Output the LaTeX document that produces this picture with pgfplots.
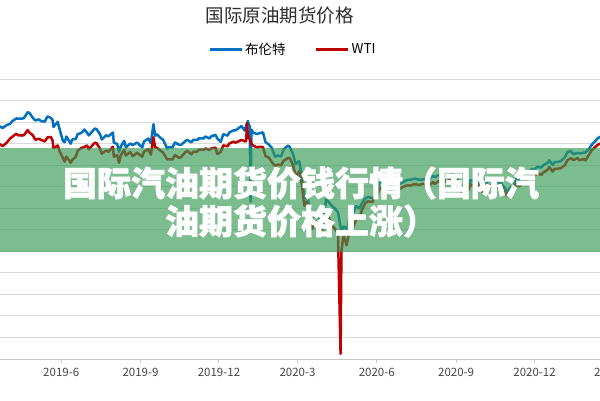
\documentclass[border=0pt]{standalone}
\usepackage{fontspec}
\usepackage{pgfplots}
\usepackage{pgfplotstable}
\pgfplotsset{compat=1.18}
\setmainfont{Noto Sans CJK SC}
\newfontfamily\bannerfont[BoldFeatures={FakeBold=1.6}]{Noto Sans CJK SC}
\definecolor{brent}{RGB}{0,112,192}
\definecolor{wti}{RGB}{192,0,0}
\definecolor{gridc}{RGB}{217,217,217}
\definecolor{axisc}{RGB}{200,200,200}
\definecolor{banner}{RGB}{54,155,86}
\definecolor{ticktext}{RGB}{70,70,70}
\definecolor{titletext}{RGB}{45,45,45}

\pgfplotstableread{
d v
73 67.16
78 68.50
83 67.21
87 68.39
92 69.31
94 70.34
99 71.73
101 71.55
106 71.62
108 71.97
112 74.51
114 74.35
118 72.04
121 70.75
125 71.24
128 70.39
132 70.23
135 72.62
139 71.97
141 70.99
142 67.76
147 70.11
149 66.87
153 61.28
155 60.63
157 63.29
162 59.97
164 62.01
168 62.14
170 64.45
174 64.86
178 66.55
181 65.06
183 63.82
190 67.01
192 66.72
196 64.35
198 61.93
203 63.83
206 63.46
211 65.17
212 60.50
216 59.81
218 56.23
220 58.53
224 61.30
226 58.23
231 60.03
234 59.34
239 60.49
245 58.26
247 60.95
252 62.38
255 60.22
258 69.02
260 63.60
262 64.28
267 62.39
269 61.91
274 57.69
276 58.37
280 58.24
283 60.51
288 59.42
290 59.42
295 61.17
297 61.72
302 60.61
304 61.69
309 61.74
311 62.51
316 62.37
318 63.30
323 62.40
325 63.39
330 64.06
332 62.43
336 60.82
339 64.39
344 63.72
346 65.22
351 66.17
353 66.14
357 67.20
360 68.16
364 66.00
365.5 68.40
367.5 70.50
368.5 68.80
369.6 68.20
370.6 33.00
371.6 66.50
374 64.98
378 64.49
381 64.85
385 65.20
388 60.69
392 59.51
395 58.16
399 53.96
402 54.47
406 54.01
409 57.32
414 59.12
416 58.50
420 54.95
423 50.52
427 51.86
430 45.27
433 34.36
435 35.79
437 33.85
440 30.05
442 24.88
444 26.98
448 27.15
451 24.93
454 22.76
457 29.94
458 34.11
461 33.05
464 31.48
469 29.60
472 28.08
476 19.33
478 21.33
479 21.44
483 20.46
485 25.27
489 27.20
493 30.97
497 29.98
500 32.50
504 34.65
507 35.13
512 34.74
514 35.33
518 39.57
521 42.30
525 41.18
527 38.55
531 39.72
535 42.19
540 40.31
542 41.02
547 42.03
552 43.10
556 43.24
561 43.79
566 43.28
570 43.34
575 43.75
577 43.30
582 45.17
584 44.40
589 45.43
591 44.80
596 45.37
598 44.35
603 45.64
605 45.81
610 44.43
612 42.66
616 39.78
619 39.83
623 40.53
626 43.15
631 41.77
633 41.92
638 40.95
640 39.27
645 41.99
647 42.85
652 43.32
654 42.93
659 41.73
661 41.77
666 39.12
668 37.46
672 39.71
675 39.45
679 43.61
682 42.78
686 43.75
689 44.96
693 46.06
696 48.18
701 48.25
703 49.25
708 48.86
710 50.00
715 51.08
717 52.26
721 50.08
723 51.29
730 51.80
735 53.60
738 55.99
742 56.58
745 55.10
750 55.79
752 55.41
757 55.81
759 55.88
763 57.46
766 59.34
771 61.47
773 62.43
777 63.35
780 62.91
785 67.04
}\brentdata

\pgfplotstableread{
d v
73 58.52
78 60.23
83 58.82
87 60.14
92 62.46
94 63.08
99 64.61
101 63.89
106 63.76
108 64.00
112 66.30
114 65.21
118 63.91
121 61.81
125 62.25
128 61.70
132 61.04
135 62.87
139 63.10
141 61.42
142 57.91
147 59.14
149 56.59
153 53.25
155 51.68
157 53.99
162 51.14
164 52.51
168 53.90
170 56.65
174 57.90
178 58.47
181 59.09
183 57.34
190 60.43
192 60.21
196 57.62
198 55.30
203 56.77
206 56.20
211 58.58
212 53.95
216 54.69
218 51.09
220 54.50
224 57.10
226 54.47
231 56.13
234 54.17
239 55.78
245 53.94
247 56.30
252 57.40
255 54.85
258 62.90
260 58.11
262 58.09
267 56.49
269 55.91
274 52.64
276 52.81
280 52.63
283 54.70
288 53.36
290 53.78
295 55.97
297 56.66
302 55.06
304 56.20
309 56.35
311 57.24
316 57.12
318 57.72
323 57.11
325 57.77
330 58.11
332 55.17
336 56.10
339 59.20
344 58.76
346 60.07
351 60.93
353 60.44
357 61.11
360 61.72
364 61.06
365.5 61.20
366.5 69.50
367.5 62.80
369 62.70
372 59.61
374 59.04
378 58.23
381 58.54
385 58.38
388 54.19
392 53.48
395 51.56
399 49.61
402 50.32
406 49.94
409 52.05
414 53.29
416 53.38
420 49.90
423 44.76
427 47.18
430 41.28
433 31.13
435 32.98
437 31.73
440 28.70
442 20.37
444 22.43
448 24.01
451 21.51
454 20.09
457 25.32
458 28.34
461 26.08
464 22.76
469 20.11
472 18.27
475 -37.63
476 10.01
478 16.50
479 16.94
482 12.78
485 18.84
489 20.39
493 24.74
497 25.78
500 29.43
504 32.50
507 33.25
512 32.81
514 35.49
518 36.81
521 39.55
525 38.94
527 36.34
531 37.12
535 39.75
540 38.01
542 38.49
547 39.82
552 40.63
556 40.55
561 41.20
566 40.81
570 41.29
575 41.27
577 40.27
582 42.19
584 41.22
589 42.67
591 42.01
596 42.93
598 42.34
603 43.39
605 42.97
610 41.51
612 39.77
616 36.76
619 37.33
623 38.28
626 41.11
631 39.93
633 40.25
638 40.22
640 37.05
645 39.95
647 40.60
652 41.04
654 40.88
659 39.03
661 39.85
666 37.39
668 35.79
672 37.66
675 37.14
679 41.36
682 40.13
686 41.43
689 42.15
693 44.91
696 45.53
701 45.28
703 46.26
708 45.52
710 46.57
715 47.82
717 49.10
721 47.02
723 48.23
730 48.52
735 49.93
738 52.24
742 53.21
745 52.36
750 53.31
752 52.27
757 52.85
759 52.20
763 54.76
766 56.85
771 58.68
773 59.47
777 60.05
780 59.24
785 63.22
}\wtidata

\begin{document}
\begin{tikzpicture}[x=1pt,y=1pt]
\useasboundingbox (0,0) rectangle (600,400);
\clip (0,0) rectangle (600,400);
\fill[white] (0,0) rectangle (600,400);
\begin{axis}[
  at={(-40.55pt,41pt)}, anchor=south west,
  scale only axis, width=661.35pt, height=280pt,
  xmin=33, xmax=800, ymin=-40, ymax=90,
  axis lines*=left,
  axis line style={axisc, line width=1pt},
  ytick={-40,-30,...,90}, yticklabels={},
  ymajorgrids, grid style={gridc, line width=1pt},
  xtick={59,151,243,334,425,517,609,700,790},
  xticklabels={2019-3,2019-6,2019-9,2019-12,2020-3,2020-6,2020-9,2020-12,2021-3},
  tick align=outside, major tick length=4pt,
  tick style={axisc, line width=1pt},
  x tick label style={font=\fontsize{11.5}{13}\selectfont, text=ticktext, yshift=-2pt},
  clip=false,
  legend style={at={(rel axis cs:0.3758,1.107)}, anchor=west, draw=none, fill=none,
    inner sep=0pt, font=\fontsize{13.5}{15}\selectfont, text=black,
    /tikz/every even column/.append style={column sep=27pt}},
  legend columns=-1,
  legend image code/.code={\draw[#1, line width=3pt] (0pt,0pt) -- (32pt,0pt);},
]
\addplot[brent, line width=2.5pt, line join=round] table[x=d,y=v] {\brentdata};
\addlegendentry{布伦特}
\addplot[wti, line width=2.5pt, line join=round] table[x=d,y=v] {\wtidata};
\addlegendentry{WTI}
\end{axis}
\node[text=titletext, font=\fontsize{18.5}{21}\selectfont] at (279.5,384.5) {国际原油期货价格};
\fill[banner, opacity=0.65] (0,148.3) rectangle (600,252.5);
\node[text=white, font=\bannerfont\fontsize{34}{40}\selectfont\bfseries] at (301,217) {国际汽油期货价钱行情（国际汽};
\node[text=white, font=\bannerfont\fontsize{34}{40}\selectfont\bfseries] at (301,179) {油期货价格上涨）};
\end{tikzpicture}
\end{document}
